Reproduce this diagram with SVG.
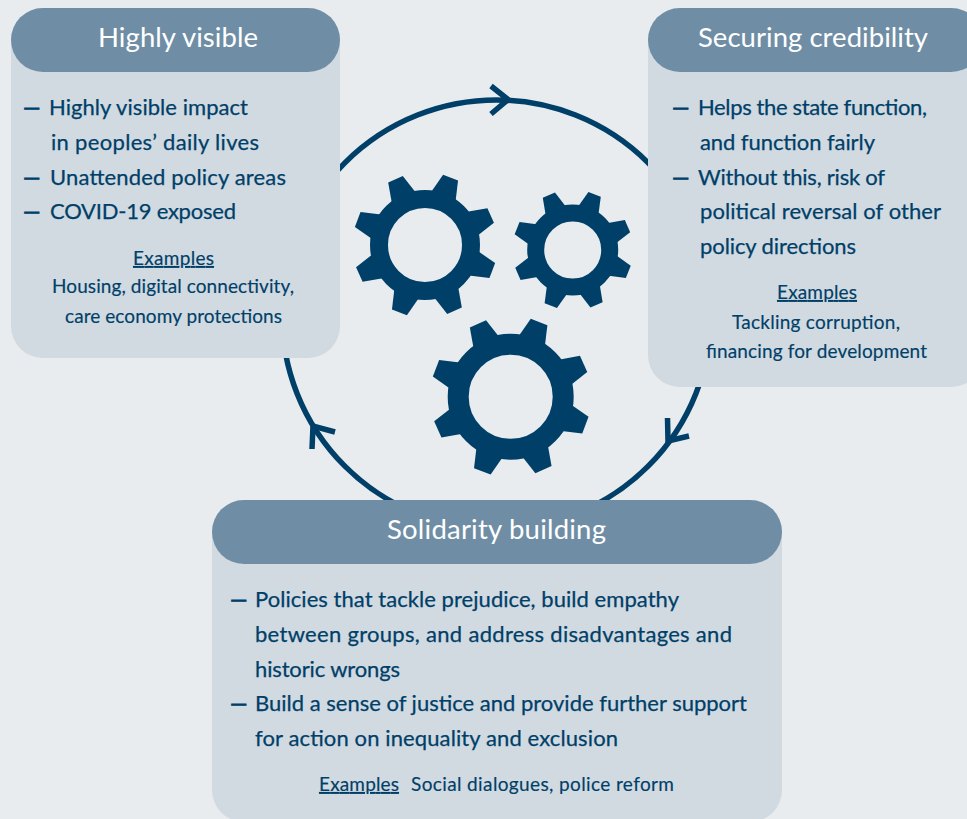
<svg xmlns="http://www.w3.org/2000/svg" xmlns:xlink="http://www.w3.org/1999/xlink" width="967" height="819" viewBox="0 0 967 819">
<style>
text{font-family:"Lato","Noto Sans",sans-serif;fill:#003f68}
.h{font-size:27.5px;fill:#fff}
.b{font-size:22px;stroke:#003f68;stroke-width:.25px}
.d{stroke-width:.8px}
.e{font-size:19px;stroke:#003f68;stroke-width:.15px}
.u{text-decoration:underline}
.body{fill:#d1d9e1}
.head{fill:#6f8ea5}
.ring{fill:none;stroke:#004068}
.arc{fill:none;stroke:#004068;stroke-width:5.5}
.t{fill:#004068}
</style>
<defs>
<g id="teeth">
<polygon class="t" points="-13,-52 -8,-72 8,-72 13,-52" transform="rotate(22.5)"/>
<polygon class="t" points="-13,-52 -8,-72 8,-72 13,-52" transform="rotate(67.5)"/>
<polygon class="t" points="-13,-52 -8,-72 8,-72 13,-52" transform="rotate(112.5)"/>
<polygon class="t" points="-13,-52 -8,-72 8,-72 13,-52" transform="rotate(157.5)"/>
<polygon class="t" points="-13,-52 -8,-72 8,-72 13,-52" transform="rotate(202.5)"/>
<polygon class="t" points="-13,-52 -8,-72 8,-72 13,-52" transform="rotate(247.5)"/>
<polygon class="t" points="-13,-52 -8,-72 8,-72 13,-52" transform="rotate(292.5)"/>
<polygon class="t" points="-13,-52 -8,-72 8,-72 13,-52" transform="rotate(337.5)"/>
</g>
</defs>
<rect width="967" height="819" fill="#e8ecef"/>
<g id="connectors">
<circle class="arc" cx="496.5" cy="314.5" r="214.5"/>
<polyline class="arc" points="491,86 508,99.5 491,114"/>
<polyline class="arc" points="667.5,418 668,441 689,436"/>
<polyline class="arc" points="312,449 313,426 335,432"/>
</g>
<g id="gear-1">
<circle class="ring" cx="425" cy="245" r="46" stroke-width="18"/>
<use xlink:href="#teeth" href="#teeth" transform="translate(425 245) rotate(-1.7)"/>
</g>
<g id="gear-2">
<circle class="ring" cx="572.7" cy="250" r="37" stroke-width="17"/>
<use xlink:href="#teeth" href="#teeth" transform="translate(572.7 250) rotate(-1) scale(.83)"/>
</g>
<g id="gear-3">
<circle class="ring" cx="510.7" cy="396.7" r="52.5" stroke-width="21"/>
<use xlink:href="#teeth" href="#teeth" transform="translate(510.7 396.7) rotate(-1.7) scale(1.11)"/>
</g>
<g id="highly-visible">
<rect class="body" x="11" y="8" width="329" height="350" rx="32"/>
<rect class="head" x="11" y="8" width="329" height="64" rx="32"/>
<text class="h" x="98" y="47" textLength="160">Highly visible</text>
<text class="b" y="115"><tspan class="d" x="23" textLength="15">—</tspan><tspan x="49" textLength="199">Highly visible impact</tspan></text>
<text class="b" x="51" y="150" textLength="208">in peoples’ daily lives</text>
<text class="b" y="185"><tspan class="d" x="23" textLength="15">—</tspan><tspan x="50" textLength="236">Unattended policy areas</tspan></text>
<text class="b" y="219"><tspan class="d" x="23" textLength="15">—</tspan><tspan x="50" textLength="186">COVID-19 exposed</tspan></text>
<text class="e u" x="133" y="265" textLength="81">Examples</text>
<text class="e" x="52" y="293" textLength="242">Housing, digital connectivity,</text>
<text class="e" x="65" y="323" textLength="217">care economy protections</text>
</g>
<g id="securing-credibility">
<rect class="body" x="648" y="8" width="335" height="379" rx="32"/>
<rect class="head" x="648" y="8" width="335" height="64" rx="32"/>
<text class="h" x="698" y="47" textLength="230">Securing credibility</text>
<text class="b" y="115"><tspan class="d" x="672" textLength="15">—</tspan><tspan x="698" textLength="229">Helps the state function,</tspan></text>
<text class="b" x="700" y="150" textLength="175">and function fairly</text>
<text class="b" y="185"><tspan class="d" x="672" textLength="15">—</tspan><tspan x="698" textLength="187">Without this, risk of</tspan></text>
<text class="b" x="700" y="219" textLength="241">political reversal of other</text>
<text class="b" x="700" y="254" textLength="156">policy directions</text>
<text class="e u" x="777" y="299" textLength="80">Examples</text>
<text class="e" x="732" y="329" textLength="168">Tackling corruption,</text>
<text class="e" x="706" y="358" textLength="221">financing for development</text>
</g>
<g id="solidarity-building">
<rect class="body" x="212" y="500" width="570" height="322" rx="32"/>
<rect class="head" x="212" y="500" width="570" height="64" rx="32"/>
<text class="h" x="387" y="539" textLength="219">Solidarity building</text>
<text class="b" y="607"><tspan class="d" x="230" textLength="15">—</tspan><tspan x="255" textLength="424">Policies that tackle prejudice, build empathy</tspan></text>
<text class="b" x="255" y="642" textLength="477">between groups, and address disadvantages and</text>
<text class="b" x="255" y="677" textLength="145">historic wrongs</text>
<text class="b" y="711"><tspan class="d" x="230" textLength="15">—</tspan><tspan x="255" textLength="492">Build a sense of justice and provide further support</tspan></text>
<text class="b" x="255" y="746" textLength="363">for action on inequality and exclusion</text>
<text class="e" y="791"><tspan class="u" x="319" textLength="80">Examples</tspan><tspan x="411" textLength="263">Social dialogues, police reform</tspan></text>
</g>
</svg>
